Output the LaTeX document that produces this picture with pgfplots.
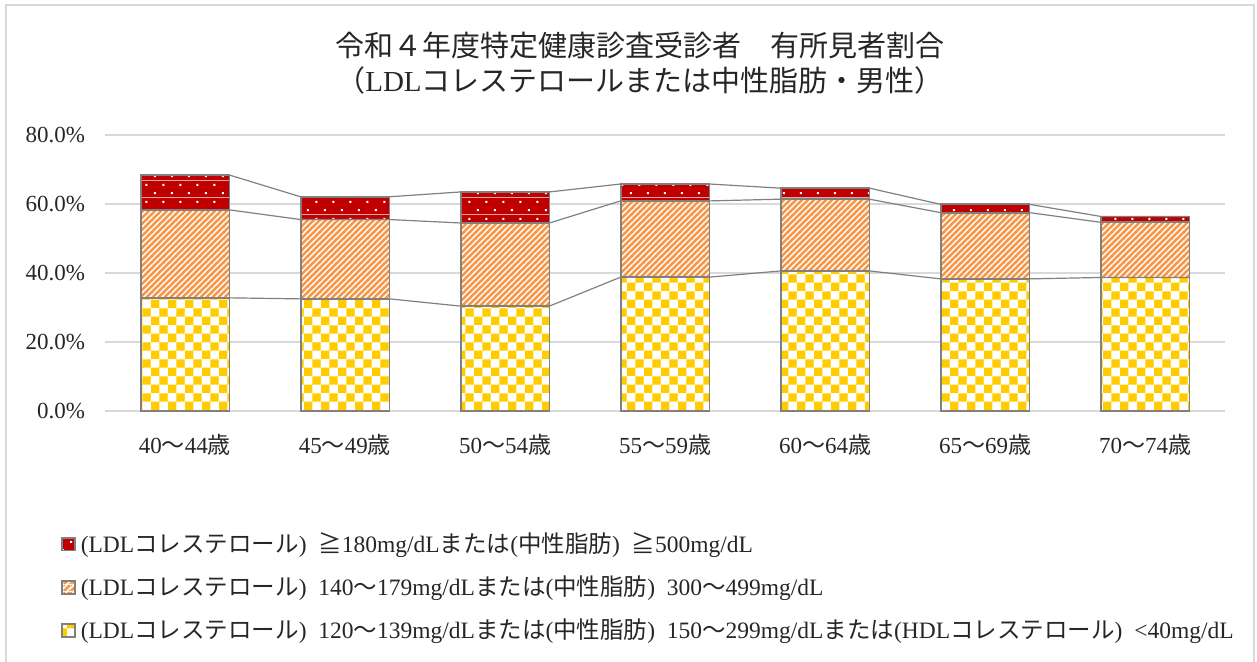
\documentclass[border=0pt]{standalone}
\usepackage{pgfplots}
\pgfplotsset{compat=1.18}
\usepackage{fontspec}
\setmainfont{Liberation Serif}
\newfontfamily\cjk{Noto Sans CJK JP}
\newcommand\J[1]{{\cjk #1}}
\newcommand\gap{\hspace{0.5em}}
\usetikzlibrary{patterns.meta}

\definecolor{dotred}{RGB}{192,0,0}
\definecolor{stripeorange}{RGB}{247,150,70}
\definecolor{checkyellow}{RGB}{255,204,0}
\definecolor{edgegray}{RGB}{128,128,128}
\definecolor{gridgray}{RGB}{217,217,217}

% yellow / white checkerboard
\pgfdeclarepattern{
  name=checkerfill,
  type=colored,
  bottom left={\pgfpointorigin},
  top right={\pgfpoint{8.4pt}{8.4pt}},
  tile size={\pgfpoint{8.4pt}{8.4pt}},
  code={
    \pgfsetfillcolor{white}
    \pgfpathrectangle{\pgfpointorigin}{\pgfpoint{8.4pt}{8.4pt}}
    \pgfusepath{fill}
    \pgfsetfillcolor{checkyellow}
    \pgfpathrectangle{\pgfpointorigin}{\pgfpoint{4.2pt}{4.2pt}}
    \pgfpathrectangle{\pgfpoint{4.2pt}{4.2pt}}{\pgfpoint{4.2pt}{4.2pt}}
    \pgfusepath{fill}
  }
}

% orange / white upward diagonal stripes
\pgfdeclarepattern{
  name=stripefill,
  type=colored,
  bottom left={\pgfpointorigin},
  top right={\pgfpoint{3.2pt}{3.2pt}},
  tile size={\pgfpoint{3.2pt}{3.2pt}},
  code={
    \pgfsetfillcolor{white}
    \pgfpathrectangle{\pgfpointorigin}{\pgfpoint{3.2pt}{3.2pt}}
    \pgfusepath{fill}
    \pgfsetfillcolor{stripeorange}
    \pgfpathmoveto{\pgfpointorigin}
    \pgfpathlineto{\pgfpoint{0.95pt}{0pt}}
    \pgfpathlineto{\pgfpoint{3.2pt}{2.25pt}}
    \pgfpathlineto{\pgfpoint{3.2pt}{3.2pt}}
    \pgfpathlineto{\pgfpoint{2.25pt}{3.2pt}}
    \pgfpathlineto{\pgfpoint{0pt}{0.95pt}}
    \pgfpathclose
    \pgfpathmoveto{\pgfpoint{2.25pt}{0pt}}
    \pgfpathlineto{\pgfpoint{3.2pt}{0pt}}
    \pgfpathlineto{\pgfpoint{3.2pt}{0.95pt}}
    \pgfpathclose
    \pgfpathmoveto{\pgfpoint{0pt}{2.25pt}}
    \pgfpathlineto{\pgfpoint{0pt}{3.2pt}}
    \pgfpathlineto{\pgfpoint{0.95pt}{3.2pt}}
    \pgfpathclose
    \pgfusepath{fill}
  }
}

% dark red with staggered white dots
\pgfdeclarepattern{
  name=dotfill,
  type=colored,
  bottom left={\pgfpointorigin},
  top right={\pgfpoint{8.4pt}{8.3pt}},
  tile size={\pgfpoint{8.4pt}{8.3pt}},
  code={
    \pgfsetfillcolor{dotred}
    \pgfpathrectangle{\pgfpointorigin}{\pgfpoint{8.4pt}{8.3pt}}
    \pgfusepath{fill}
    \pgfsetfillcolor{white}
    \pgfpathrectangle{\pgfpoint{1.5pt}{1.5pt}}{\pgfpoint{1pt}{1pt}}
    \pgfpathrectangle{\pgfpoint{5.7pt}{5.65pt}}{\pgfpoint{1pt}{1pt}}
    \pgfusepath{fill}
  }
}

\pgfplotstableread{
idx  low   mid   high
0    32.8  25.5  10.1
1    32.5  23.0  6.6
2    30.4  24.1  9.0
3    38.8  22.1  4.9
4    40.6  20.8  3.2
5    38.3  19.2  2.4
6    38.7  16.0  1.7
}\ratiotable

\begin{document}
\begin{tikzpicture}
\useasboundingbox (0pt,0pt) rectangle (628.5pt,-331pt);
\draw[gridgray, line width=1pt] (2.8pt,-2.5pt) rectangle (627pt,-333pt);

\node[align=center, font=\fontsize{14.5pt}{17.5pt}\selectfont, text=black!85]
  at (320pt,-31.5pt)
  {\J{令和４年度特定健康診査受診者　有所見者割合}\\\J{（}LDL\J{コレステロールまたは中性脂肪・男性）}};

\begin{axis}[
  at={(52.5pt,-205.5pt)}, anchor=south west,
  scale only axis, width=560pt, height=138pt,
  ybar stacked, bar width=0.555,
  xmin=-0.5, xmax=6.5, ymin=0, ymax=80,
  xtick={0,...,6},
  xticklabels={40\J{～}44\J{歳},45\J{～}49\J{歳},50\J{～}54\J{歳},55\J{～}59\J{歳},
               60\J{～}64\J{歳},65\J{～}69\J{歳},70\J{～}74\J{歳}},
  ytick={0,20,40,60,80},
  yticklabel={\pgfmathprintnumber[fixed,fixed zerofill,precision=1]{\tick}\%},
  /pgf/number format/assume math mode=true,
  ymajorgrids, grid style={gridgray, line width=0.8pt},
  axis line style={draw=none}, tick style={draw=none},
  ticklabel style={font=\fontsize{11.5pt}{13pt}\selectfont, text=black!85},
  yticklabel style={xshift=-6.5pt},
  xticklabel style={yshift=-8pt},
  reverse legend,
  legend style={
    at={(-0.0393,-0.425)}, anchor=north west,
    draw=none, fill=none, inner sep=0pt,
    font=\fontsize{11.75pt}{13pt}\selectfont, text=black!85,
    cells={anchor=west}, row sep=6.2pt,
    /tikz/every odd column/.append style={column sep=0.5pt},
  },
  legend image code/.code={%
    \draw[#1, draw=edgegray, line width=0.8pt] (0pt,-3.2pt) rectangle (6.4pt,3.2pt);},
]
\addplot[pattern=checkerfill, draw=edgegray, line width=0.9pt]
  table[x=idx, y=low] {\ratiotable};
\addplot[pattern=stripefill, draw=edgegray, line width=0.9pt]
  table[x=idx, y=mid] {\ratiotable};
\addplot[pattern=dotfill, draw=edgegray, line width=0.9pt]
  table[x=idx, y=high] {\ratiotable};
\legend{(LDL\J{コレステロール})\gap 120\J{～}139mg/dL\J{または}(\J{中性脂肪})\gap 150\J{～}299mg/dL\J{または}(HDL\J{コレステロール})\gap <40mg/dL,
        (LDL\J{コレステロール})\gap 140\J{～}179mg/dL\J{または}(\J{中性脂肪})\gap 300\J{～}499mg/dL,
        (LDL\J{コレステロール})\gap \J{≧}180mg/dL\J{または}(\J{中性脂肪})\gap \J{≧}500mg/dL}
\end{axis}

% series lines joining the stacked levels of neighbouring bars
\begin{axis}[
  at={(52.5pt,-205.5pt)}, anchor=south west,
  scale only axis, width=560pt, height=138pt,
  xmin=-0.5, xmax=6.5, ymin=0, ymax=80, hide axis,
]
\addplot[edgegray, line width=0.6pt] coordinates {
  (-0.2775,32.8) (0.2775,32.8) (0.7225,32.5) (1.2775,32.5)
  (1.7225,30.4) (2.2775,30.4) (2.7225,38.8) (3.2775,38.8)
  (3.7225,40.6) (4.2775,40.6) (4.7225,38.3) (5.2775,38.3)
  (5.7225,38.7) (6.2775,38.7)};
\addplot[edgegray, line width=0.6pt] coordinates {
  (-0.2775,58.3) (0.2775,58.3) (0.7225,55.5) (1.2775,55.5)
  (1.7225,54.5) (2.2775,54.5) (2.7225,60.9) (3.2775,60.9)
  (3.7225,61.4) (4.2775,61.4) (4.7225,57.5) (5.2775,57.5)
  (5.7225,54.7) (6.2775,54.7)};
\addplot[edgegray, line width=0.6pt] coordinates {
  (-0.2775,68.4) (0.2775,68.4) (0.7225,62.1) (1.2775,62.1)
  (1.7225,63.5) (2.2775,63.5) (2.7225,65.8) (3.2775,65.8)
  (3.7225,64.6) (4.2775,64.6) (4.7225,59.9) (5.2775,59.9)
  (5.7225,56.4) (6.2775,56.4)};
\end{axis}
\end{tikzpicture}
\end{document}
